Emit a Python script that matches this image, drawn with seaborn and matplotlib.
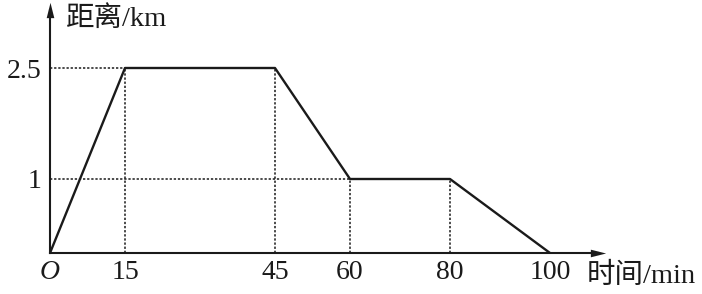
import matplotlib
matplotlib.use("Agg")
import matplotlib.pyplot as plt
import seaborn as sns
import pandas as pd

sns.set_style("white")
plt.rcParams['font.family'] = ['Liberation Serif', 'Noto Sans CJK SC']

time_min = [0, 15, 45, 60, 80, 100]
distance_km = [0, 2.5, 2.5, 1, 1, 0]
x_ticks = [0, 15, 45, 60, 80, 100]
x_labels = ['O', '15', '45', '60', '80', '100']
y_ticks = [1, 2.5]
y_labels = ['1', '2.5']

df = pd.DataFrame({'t': time_min, 'd': distance_km})

X0, Y0 = 50, 253          # origin pixel
XR, YT = 598, 10          # axes right / top pixel
SX, SY = 5.0, 74.0        # px per unit

fig = plt.figure(figsize=(7.02, 2.94), dpi=100)
ax = fig.add_axes([X0/702, (294-Y0)/294, (XR-X0)/702, (Y0-YT)/294])
ink = '#1a1a1a'

sns.lineplot(data=df, x='t', y='d', ax=ax, color=ink, linewidth=1.7, sort=False)

# dotted guide lines
dot = dict(color=ink, linestyle=(0, (1.5, 1.2)), linewidth=1.1)
for t, d in zip(time_min, distance_km):
    if t in (15, 45, 60, 80):
        ax.plot([t, t], [0, d], **dot)
ax.plot([0, 15], [2.5, 2.5], **dot)
ax.plot([0, 60], [1, 1], **dot)

ax.set_xlim(0, (XR-X0)/SX)
ax.set_ylim(0, (Y0-YT)/SY)

for s in ['top', 'right']:
    ax.spines[s].set_visible(False)
for s in ['left', 'bottom']:
    ax.spines[s].set_color(ink)
    ax.spines[s].set_linewidth(1.5)

# arrows (triangles)
right_arrow = [(-1, -0.5), (1, 0), (-1, 0.5), (-1, -0.5)]
up_arrow = [(-0.5, -1), (0, 1), (0.5, -1), (-0.5, -1)]
ax.plot(1, 0, marker=right_arrow, color=ink, markersize=11, markeredgewidth=0,
        transform=ax.get_yaxis_transform(), clip_on=False)
ax.plot(0, 1, marker=up_arrow, color=ink, markersize=11, markeredgewidth=0,
        transform=ax.get_xaxis_transform(), clip_on=False)

ax.set_xticks(x_ticks)
ax.set_xticklabels(x_labels, fontsize=20, color=ink)
ax.get_xticklabels()[0].set_style('italic')
ax.set_yticks(y_ticks)
ax.set_yticklabels(y_labels, fontsize=20, color=ink)
ax.tick_params(axis='x', length=0, pad=5)
ax.tick_params(axis='y', length=0, pad=6)
ax.set_xlabel('')
ax.set_ylabel('')

fig.text(66/702, 1 - 19/294, '距离/km', fontsize=20.5, color=ink, va='center', ha='left')
fig.text(587/702, 1 - 276/294, '时间/min', fontsize=20.5, color=ink, va='center', ha='left')

fig.savefig('out.png', dpi=100)
